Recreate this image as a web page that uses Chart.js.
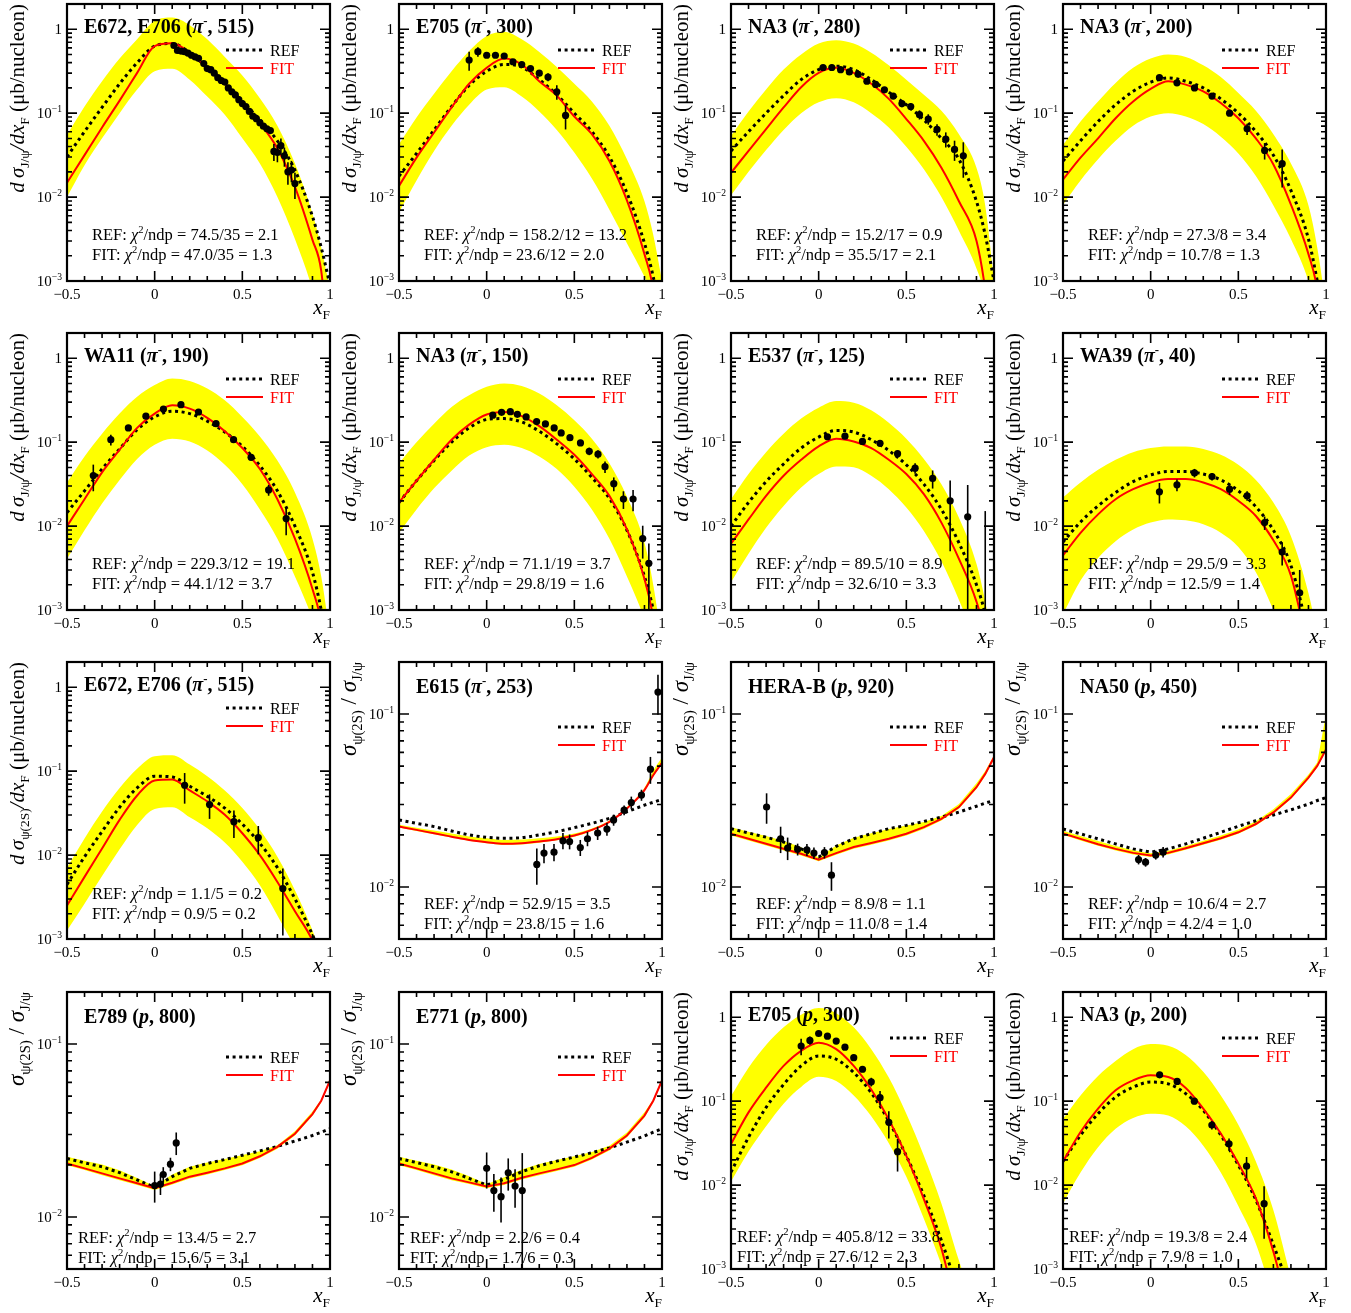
<!DOCTYPE html>
<html><head><meta charset="utf-8">
<script src="https://cdn.jsdelivr.net/npm/chart.js@4.4.0/dist/chart.umd.min.js"></script>
<style>
html,body{margin:0;padding:0;background:#fff;}
#wrap{position:relative;width:1351px;height:1313px;overflow:hidden;}
canvas{position:absolute;}
</style></head><body><div id="wrap"></div>
<script>
// ---------- common grids / ticks ----------
const xGrid = [-0.5,-0.4,-0.3,-0.2,-0.1,0,0.1,0.2,0.3,0.4,0.5,0.6,0.7,0.8,0.9,0.95,1.0];
const xTickValues = [-0.5,0,0.5,1];
const xTickLabels = ['\u22120.5','0','0.5','1'];
const csTickValues = [1e-3,1e-2,1e-1,1];
const csTickExps = ['\u22123','\u22122','\u22121',''];
const ratioTickValues = [1e-2,1e-1];
const ratioTickExps = ['\u22122','\u22121'];

// ---------- panel 1: E672,E706 (pi-,515) J/psi ----------
const p1Fit = [0.0148,0.0316,0.0676,0.141,0.302,0.63,0.68,0.525,0.347,0.224,0.132,0.0759,0.038,0.0132,0.00309,0.00132,0.0001];
const p1Ref = [0.0302,0.0603,0.117,0.224,0.398,0.631,0.676,0.525,0.347,0.229,0.138,0.0832,0.0468,0.0209,0.00589,0.00251,0.00089];
const p1Hi  = [0.055,0.12,0.24,0.447,0.759,1.26,1.38,1.12,0.759,0.468,0.282,0.151,0.0708,0.0251,0.00631,0.00251,0.000794];
const p1Lo  = [0.01,0.024,0.0501,0.1,0.191,0.316,0.339,0.251,0.158,0.0955,0.0501,0.0251,0.01,0.00316,0.000794,0.000316,0.0001];
const p1X = [0.11,0.13,0.15,0.17,0.19,0.21,0.23,0.25,0.28,0.30,0.32,0.34,0.36,0.38,0.40,0.42,0.44,0.46,0.48,0.50,0.52,0.54,0.56,0.58,0.60,0.62,0.64,0.66,0.68,0.70,0.72,0.74,0.76,0.78,0.80];
const p1Y = [0.64,0.56,0.55,0.54,0.52,0.49,0.47,0.45,0.39,0.34,0.33,0.30,0.265,0.245,0.235,0.20,0.18,0.165,0.145,0.13,0.12,0.105,0.092,0.086,0.077,0.07,0.065,0.062,0.035,0.034,0.041,0.031,0.020,0.021,0.0145];
const p1Err = [0.02,0.02,0.02,0.02,0.02,0.02,0.02,0.02,0.015,0.015,0.015,0.012,0.012,0.01,0.01,0.01,0.008,0.008,0.007,0.006,0.006,0.005,0.005,0.005,0.004,0.004,0.004,0.004,0.008,0.008,0.009,0.008,0.006,0.006,0.005];

// ---------- panel 2: E705 (pi-,300) ----------
const p2Fit = [0.0136,0.0295,0.0589,0.117,0.224,0.347,0.447,0.38,0.24,0.162,0.0912,0.0562,0.0269,0.00912,0.00209,0.000794,0.0001];
const p2Ref = [0.0178,0.0331,0.0631,0.12,0.214,0.316,0.38,0.355,0.251,0.166,0.1,0.0603,0.0302,0.0112,0.00282,0.00112,0.000316];
const p2Hi  = [0.0427,0.0891,0.17,0.316,0.55,0.832,0.933,0.759,0.537,0.355,0.224,0.138,0.0708,0.0282,0.00891,0.00355,0.001];
const p2Lo  = [0.0066,0.0158,0.0355,0.0708,0.126,0.191,0.204,0.158,0.105,0.0631,0.0339,0.0166,0.00708,0.00282,0.00112,0.00063,0.00025];
const p2X = [-0.1,-0.05,0,0.05,0.1,0.15,0.2,0.25,0.3,0.35,0.4,0.45];
const p2Y = [0.43,0.54,0.49,0.49,0.48,0.41,0.38,0.34,0.3,0.27,0.18,0.094];
const p2Err = [0.11,0.07,0.03,0.03,0.03,0.03,0.025,0.025,0.025,0.03,0.035,0.03];

// ---------- panel 3: NA3 (pi-,280) ----------
const p3Fit = [0.0195,0.0355,0.0646,0.117,0.204,0.302,0.347,0.302,0.224,0.148,0.0851,0.0468,0.0224,0.00891,0.00302,0.000794,0.0001];
const p3Ref = [0.0355,0.0603,0.1,0.162,0.251,0.331,0.363,0.331,0.251,0.178,0.126,0.0832,0.0501,0.0282,0.00891,0.00355,0.001];
const p3Hi  = [0.0537,0.105,0.191,0.331,0.501,0.676,0.741,0.676,0.525,0.372,0.251,0.166,0.107,0.0562,0.0224,0.00794,0.001];
const p3Lo  = [0.0105,0.02,0.0363,0.0631,0.1,0.135,0.151,0.135,0.1,0.0676,0.0398,0.0214,0.01,0.00398,0.00141,0.00063,0.0001];
const p3X = [0.025,0.075,0.125,0.175,0.225,0.275,0.325,0.375,0.425,0.475,0.525,0.575,0.625,0.675,0.725,0.775,0.825];
const p3Y = [0.35,0.35,0.33,0.31,0.29,0.24,0.22,0.19,0.16,0.13,0.12,0.096,0.085,0.064,0.049,0.037,0.031];
const p3Err = [0.02,0.02,0.02,0.02,0.02,0.015,0.015,0.012,0.012,0.012,0.012,0.012,0.012,0.01,0.01,0.01,0.014];

// ---------- panel 4: NA3 (pi-,200) ----------
const p4Fit = [0.0162,0.0295,0.0501,0.0871,0.138,0.195,0.24,0.219,0.182,0.132,0.0871,0.0501,0.0245,0.00813,0.00209,0.000794,0.0001];
const p4Ref = [0.0269,0.0468,0.0794,0.126,0.182,0.234,0.263,0.24,0.2,0.148,0.1,0.0603,0.0316,0.012,0.00316,0.001,0.00025];
const p4Hi  = [0.0417,0.0794,0.138,0.229,0.347,0.447,0.501,0.468,0.372,0.269,0.174,0.107,0.0562,0.0251,0.00794,0.00251,0.0005];
const p4Lo  = [0.00813,0.0158,0.0282,0.0468,0.0708,0.0912,0.1,0.0912,0.0741,0.0525,0.0331,0.0178,0.00794,0.00316,0.001,0.000398,0.000158];
const p4X = [0.05,0.15,0.25,0.35,0.45,0.55,0.65,0.75];
const p4Y = [0.265,0.23,0.2,0.16,0.1,0.065,0.036,0.025];
const p4Err = [0.02,0.015,0.012,0.01,0.007,0.01,0.008,0.012];

// ---------- panel 5: WA11 (pi-,190) ----------
const p5Fit = [0.01,0.0209,0.0437,0.0813,0.148,0.219,0.275,0.251,0.195,0.135,0.0851,0.0479,0.0209,0.00708,0.00178,0.000708,0.0001];
const p5Ref = [0.0145,0.0263,0.0479,0.0832,0.141,0.2,0.234,0.219,0.178,0.132,0.0891,0.0525,0.0263,0.01,0.00282,0.001,0.00025];
const p5Hi  = [0.0331,0.0676,0.126,0.219,0.347,0.479,0.575,0.537,0.437,0.316,0.2,0.117,0.0603,0.0251,0.00708,0.00251,0.0005];
const p5Lo  = [0.00407,0.00891,0.0186,0.0355,0.0631,0.0933,0.11,0.102,0.0794,0.0537,0.0316,0.0158,0.00708,0.00251,0.000794,0.000398,0.000158];
const p5X = [-0.35,-0.25,-0.15,-0.05,0.05,0.15,0.25,0.35,0.45,0.55,0.65,0.75];
const p5Y = [0.04,0.107,0.148,0.204,0.248,0.28,0.229,0.166,0.107,0.066,0.027,0.0123];
const p5Err = [0.014,0.016,0.01,0.012,0.012,0.012,0.01,0.01,0.008,0.005,0.004,0.0045];

// ---------- panel 6: NA3 (pi-,150) ----------
const p6Fit = [0.0191,0.0347,0.0617,0.107,0.162,0.214,0.229,0.204,0.155,0.107,0.0708,0.0417,0.0229,0.00912,0.00234,0.000794,0.0001];
const p6Ref = [0.0191,0.0347,0.0603,0.1,0.148,0.186,0.191,0.174,0.135,0.0955,0.0631,0.038,0.0214,0.00891,0.00251,0.001,0.00025];
const p6Hi  = [0.0562,0.1,0.166,0.263,0.363,0.457,0.501,0.468,0.38,0.275,0.182,0.11,0.0562,0.0224,0.00631,0.002,0.000398];
const p6Lo  = [0.00832,0.0158,0.0282,0.0457,0.0692,0.0871,0.0933,0.0851,0.0676,0.0479,0.0295,0.0158,0.00708,0.00251,0.000794,0.000398,0.000158];
const p6X = [0.035,0.085,0.135,0.175,0.225,0.285,0.335,0.385,0.425,0.475,0.535,0.585,0.635,0.675,0.725,0.78,0.835,0.89,0.925];
const p6Y = [0.21,0.227,0.231,0.215,0.2,0.176,0.165,0.148,0.129,0.113,0.098,0.078,0.072,0.051,0.032,0.021,0.021,0.0071,0.0036];
const p6Err = [0.012,0.012,0.012,0.012,0.01,0.01,0.009,0.008,0.008,0.008,0.008,0.008,0.008,0.008,0.006,0.005,0.006,0.003,0.0026];

// ---------- panel 7: E537 (pi-,125) ----------
const p7Fit = [0.00617,0.012,0.0229,0.0398,0.0617,0.0891,0.11,0.102,0.0851,0.0617,0.0417,0.024,0.011,0.00407,0.00126,0.000501,0.0001];
const p7Ref = [0.01,0.0191,0.0339,0.055,0.0851,0.115,0.138,0.132,0.107,0.0794,0.0537,0.0316,0.0158,0.00631,0.002,0.000891,0.00025];
const p7Hi  = [0.0209,0.0417,0.0759,0.126,0.191,0.257,0.309,0.295,0.24,0.17,0.11,0.0631,0.0316,0.0126,0.00355,0.00126,0.000316];
const p7Lo  = [0.00214,0.00468,0.00955,0.0174,0.0288,0.0417,0.0513,0.0501,0.0398,0.0275,0.0166,0.00871,0.0038,0.00132,0.000398,0.0002,0.0001];
const p7X = [0.05,0.15,0.25,0.35,0.45,0.55,0.65,0.75,0.85,0.95];
const p7Y = [0.116,0.118,0.102,0.097,0.073,0.049,0.037,0.02,0.0129,0.0006];
const p7Err = [0.005,0.005,0.005,0.006,0.006,0.007,0.009,0.015,0.018,0.0145];

// ---------- panel 8: WA39 (pi-,40) ----------
const p8Fit = [0.00447,0.00832,0.0138,0.0209,0.0275,0.0331,0.0363,0.0363,0.0331,0.0275,0.02,0.0132,0.00676,0.00257,0.000316,0.0001,0.0000316];
const p8Ref = [0.00646,0.0112,0.0174,0.0251,0.0339,0.0407,0.0447,0.0447,0.0417,0.0355,0.0263,0.017,0.00891,0.00339,0.0005,0.000158,0.00005];
const p8Hi  = [0.0219,0.0331,0.0468,0.0617,0.0759,0.0851,0.0891,0.0891,0.0832,0.0708,0.0537,0.0355,0.0191,0.00759,0.00158,0.000501,0.0001];
const p8Lo  = [0.000891,0.00224,0.00417,0.00661,0.00912,0.011,0.012,0.0117,0.0105,0.00832,0.00562,0.00282,0.001,0.000316,0.0001,0.00005,0.0000316];
const p8X = [0.05,0.15,0.25,0.35,0.45,0.55,0.65,0.75,0.85];
const p8Y = [0.0256,0.031,0.043,0.039,0.0275,0.023,0.011,0.0049,0.0016];
const p8Err = [0.007,0.005,0.005,0.004,0.004,0.003,0.002,0.0015,0.0014];

// ---------- panel 9: E672,E706 (pi-,515) psi(2S) ----------
const p9Fit = [0.00251,0.0055,0.012,0.0263,0.0513,0.0776,0.0794,0.0589,0.0437,0.0302,0.0182,0.01,0.00479,0.00214,0.000955,0.0005,0.000158];
const p9Ref = [0.00447,0.00955,0.0191,0.0372,0.0631,0.0871,0.0851,0.0661,0.0501,0.0363,0.0234,0.0138,0.00708,0.00302,0.00112,0.00063,0.00025];
const p9Hi  = [0.00708,0.0158,0.0331,0.0631,0.107,0.151,0.155,0.12,0.0871,0.0589,0.0363,0.02,0.00955,0.0038,0.00126,0.00063,0.000316];
const p9Lo  = [0.00126,0.00263,0.00562,0.0117,0.0229,0.0355,0.0372,0.0282,0.0209,0.0141,0.00832,0.00437,0.00191,0.000794,0.000316,0.000158,0.0001];
const p9X = [0.171,0.313,0.452,0.591,0.731];
const p9Y = [0.068,0.04,0.025,0.0162,0.004];
const p9Err = [0.027,0.013,0.009,0.006,0.0029];

// ---------- panel 10: E615 (pi-,253) ratio ----------
const p10Fit = [0.02234,0.02138,0.02042,0.01954,0.01871,0.01816,0.01775,0.01791,0.01832,0.01888,0.01982,0.02138,0.02382,0.02844,0.03631,0.04426,0.05224];
const p10Ref = [0.02438,0.02333,0.02234,0.02109,0.02,0.01936,0.01914,0.01928,0.02,0.02089,0.02203,0.02333,0.02495,0.02723,0.02972,0.0309,0.03206];
const p10Hi  = [0.0229,0.022,0.0212,0.0204,0.0196,0.0191,0.0187,0.0188,0.0191,0.0196,0.0204,0.0218,0.0242,0.029,0.0375,0.047,0.056];
const p10Lo  = [0.0221,0.0211,0.0202,0.0193,0.0185,0.0179,0.0175,0.0176,0.018,0.0186,0.0195,0.0211,0.0235,0.0281,0.0358,0.0436,0.0515];
const p10X = [0.286,0.327,0.384,0.435,0.473,0.534,0.575,0.633,0.686,0.724,0.784,0.825,0.883,0.934,0.977];
const p10Y = [0.0135,0.0157,0.0159,0.0185,0.0183,0.0169,0.019,0.0205,0.0216,0.0244,0.0278,0.0308,0.034,0.048,0.134];
const p10Err = [0.0032,0.002,0.0018,0.002,0.0018,0.0018,0.0018,0.0018,0.0018,0.0018,0.0018,0.0025,0.0025,0.0085,0.035];

// ---------- panel 11: HERA-B (p,920) ratio ----------
const p11Fit = [0.02032,0.01901,0.01778,0.01663,0.01556,0.01439,0.0157,0.01702,0.01795,0.01901,0.02032,0.02218,0.02477,0.02897,0.03776,0.04508,0.05623];
const p11Ref = [0.02173,0.02051,0.01941,0.0182,0.01663,0.01489,0.01718,0.01901,0.02032,0.02173,0.0227,0.02393,0.02535,0.0271,0.02931,0.03055,0.03162];
const p11Hi  = [0.02213,0.02089,0.01972,0.01841,0.01698,0.01479,0.01738,0.01928,0.02042,0.02163,0.02265,0.02371,0.0257,0.0302,0.03981,0.04677,0.05754];
const p11Lo  = [0.01985,0.01857,0.01737,0.01625,0.0152,0.01406,0.01534,0.01663,0.01754,0.01857,0.01985,0.02167,0.0242,0.0283,0.0369,0.04404,0.05494];
const p11X = [-0.297,-0.217,-0.177,-0.12,-0.067,-0.027,0.033,0.073];
const p11Y = [0.029,0.019,0.0168,0.0165,0.0164,0.0157,0.0158,0.0117];
const p11Err = [0.0058,0.0033,0.0025,0.0013,0.0013,0.0012,0.0012,0.0022];

// ---------- panel 12: NA50 (p,450) ratio ----------
const p12Fit = [0.02042,0.01897,0.01766,0.0166,0.01574,0.01521,0.01574,0.01675,0.01791,0.01914,0.0207,0.02312,0.02698,0.03289,0.04285,0.05012,0.06237];
const p12Ref = [0.02163,0.02028,0.01897,0.01774,0.0166,0.01589,0.0166,0.01774,0.01914,0.0207,0.02244,0.02415,0.02606,0.02793,0.03013,0.03162,0.03289];
const p12Hi  = [0.02113,0.01972,0.01841,0.01726,0.01633,0.01567,0.01622,0.01726,0.01849,0.01982,0.02148,0.02399,0.02818,0.03451,0.04467,0.05248,0.1];
const p12Lo  = [0.02001,0.01859,0.01731,0.01627,0.01543,0.01491,0.01543,0.01642,0.01755,0.01876,0.02029,0.02266,0.02644,0.03223,0.04199,0.04912,0.06112];
const p12X = [-0.069,-0.029,0.029,0.071];
const p12Y = [0.0144,0.0139,0.0153,0.0159];
const p12Err = [0.0009,0.0008,0.0009,0.0011];

// ---------- panel 13: E789 (p,800) ratio ----------
const p13Fit = [0.02037,0.0191,0.01786,0.01671,0.01567,0.01466,0.01578,0.0171,0.01803,0.0191,0.02037,0.02244,0.02541,0.03027,0.03936,0.04699,0.06166];
const p13Ref = [0.02178,0.02056,0.0195,0.01803,0.01637,0.01486,0.0171,0.0191,0.02037,0.02148,0.02275,0.0241,0.02559,0.02748,0.02958,0.0309,0.03236];
const p13Hi  = [0.02228,0.02113,0.02009,0.01862,0.01679,0.01507,0.01758,0.0195,0.02065,0.02163,0.0228,0.02399,0.026,0.03126,0.04074,0.04786,0.0631];
const p13Lo  = [0.0199,0.01866,0.01745,0.01633,0.01531,0.01432,0.01542,0.01671,0.01762,0.01866,0.0199,0.02192,0.02483,0.02957,0.03846,0.04591,0.06024];
const p13X = [0.0,0.033,0.049,0.09,0.123];
const p13Y = [0.0152,0.0155,0.0176,0.0202,0.0268];
const p13Err = [0.0031,0.0021,0.0018,0.0018,0.004];

// ---------- panel 14: E771 (p,800) ratio ----------
const p14Fit = [0.02037,0.0191,0.01786,0.01671,0.01585,0.015,0.01567,0.01687,0.01786,0.01884,0.01995,0.02198,0.02483,0.02958,0.03855,0.04699,0.06166];
const p14Ref = [0.02178,0.02065,0.0195,0.01824,0.01671,0.01531,0.01652,0.01824,0.01977,0.02104,0.02223,0.02355,0.02506,0.0271,0.02938,0.0309,0.03236];
const p14Hi  = [0.02228,0.02113,0.02009,0.01879,0.01718,0.01545,0.01698,0.01884,0.02023,0.02138,0.02244,0.02371,0.0258,0.03076,0.04027,0.04786,0.0631];
const p14Lo  = [0.0199,0.01866,0.01745,0.01633,0.01549,0.01466,0.01531,0.01648,0.01745,0.01841,0.01949,0.02147,0.02426,0.0289,0.03766,0.04591,0.06024];
const p14X = [0.0,0.041,0.082,0.123,0.162,0.203];
const p14Y = [0.0191,0.0142,0.0131,0.018,0.0151,0.0142];
const p14Err = [0.0045,0.0035,0.0038,0.0038,0.0038,0.0092];

// ---------- panel 15: E705 (p,300) ----------
const p15Fit = [0.0309,0.0735,0.145,0.263,0.398,0.497,0.417,0.263,0.138,0.0607,0.0223,0.00682,0.00176,0.000251,0.00005,0.0000251,0.00001];
const p15Ref = [0.01426,0.0372,0.0841,0.158,0.263,0.345,0.316,0.219,0.126,0.0579,0.0223,0.00748,0.00219,0.000501,0.0001,0.00005,0.0000251];
const p15Hi  = [0.115,0.251,0.468,0.759,1.07,1.29,1.12,0.759,0.417,0.191,0.0708,0.0224,0.00603,0.00126,0.000316,0.000158,0.0001];
const p15Lo  = [0.011,0.0251,0.0501,0.0933,0.148,0.195,0.174,0.117,0.0661,0.0316,0.0126,0.00398,0.00112,0.000251,0.000063,0.0000316,0.00001];
const p15X = [-0.1,-0.05,0,0.05,0.1,0.15,0.2,0.25,0.3,0.35,0.4,0.45];
const p15Y = [0.453,0.53,0.64,0.595,0.52,0.44,0.33,0.24,0.17,0.11,0.056,0.025];
const p15Err = [0.1,0.06,0.04,0.035,0.03,0.025,0.02,0.018,0.02,0.022,0.02,0.0105];

// ---------- panel 16: NA3 (p,200) ----------
const p16Fit = [0.0191,0.043,0.0815,0.135,0.177,0.203,0.194,0.144,0.0815,0.0411,0.0181,0.00695,0.00161,0.000251,0.00005,0.0000251,0.00001];
const p16Ref = [0.0191,0.0393,0.071,0.112,0.147,0.169,0.161,0.123,0.0778,0.0393,0.0173,0.00664,0.00194,0.000501,0.0001,0.00005,0.0000251];
const p16Hi  = [0.0617,0.117,0.2,0.302,0.417,0.479,0.457,0.355,0.224,0.117,0.0525,0.0191,0.00501,0.000794,0.000158,0.0000794,0.0000316];
const p16Lo  = [0.00603,0.0141,0.0282,0.0468,0.0631,0.0708,0.0676,0.0501,0.0295,0.0141,0.00562,0.002,0.000447,0.0001,0.0000251,0.0000158,0.00001];
const p16X = [0.051,0.151,0.249,0.349,0.447,0.547,0.647];
const p16Y = [0.206,0.172,0.1,0.052,0.031,0.0168,0.006];
const p16Err = [0.01,0.008,0.008,0.006,0.005,0.0048,0.0037];

// ---------- panel descriptions ----------
const panels = [
 {name:'E672, E706', beam:'pi', energy:'515', kind:'cs', yt:'jpsi', fit:p1Fit, ref:p1Ref, hi:p1Hi, lo:p1Lo, dx:p1X, dy:p1Y, de:p1Err, chiRef:'74.5/35 = 2.1', chiFit:'47.0/35 = 1.3'},
 {name:'E705', beam:'pi', energy:'300', kind:'cs', yt:'jpsi', fit:p2Fit, ref:p2Ref, hi:p2Hi, lo:p2Lo, dx:p2X, dy:p2Y, de:p2Err, chiRef:'158.2/12 = 13.2', chiFit:'23.6/12 = 2.0'},
 {name:'NA3', beam:'pi', energy:'280', kind:'cs', yt:'jpsi', fit:p3Fit, ref:p3Ref, hi:p3Hi, lo:p3Lo, dx:p3X, dy:p3Y, de:p3Err, chiRef:'15.2/17 = 0.9', chiFit:'35.5/17 = 2.1'},
 {name:'NA3', beam:'pi', energy:'200', kind:'cs', yt:'jpsi', fit:p4Fit, ref:p4Ref, hi:p4Hi, lo:p4Lo, dx:p4X, dy:p4Y, de:p4Err, chiRef:'27.3/8 = 3.4', chiFit:'10.7/8 = 1.3'},
 {name:'WA11', beam:'pi', energy:'190', kind:'cs', yt:'jpsi', fit:p5Fit, ref:p5Ref, hi:p5Hi, lo:p5Lo, dx:p5X, dy:p5Y, de:p5Err, chiRef:'229.3/12 = 19.1', chiFit:'44.1/12 = 3.7'},
 {name:'NA3', beam:'pi', energy:'150', kind:'cs', yt:'jpsi', fit:p6Fit, ref:p6Ref, hi:p6Hi, lo:p6Lo, dx:p6X, dy:p6Y, de:p6Err, chiRef:'71.1/19 = 3.7', chiFit:'29.8/19 = 1.6'},
 {name:'E537', beam:'pi', energy:'125', kind:'cs', yt:'jpsi', fit:p7Fit, ref:p7Ref, hi:p7Hi, lo:p7Lo, dx:p7X, dy:p7Y, de:p7Err, chiRef:'89.5/10 = 8.9', chiFit:'32.6/10 = 3.3'},
 {name:'WA39', beam:'pi', energy:'40', kind:'cs', yt:'jpsi', fit:p8Fit, ref:p8Ref, hi:p8Hi, lo:p8Lo, dx:p8X, dy:p8Y, de:p8Err, chiRef:'29.5/9 = 3.3', chiFit:'12.5/9 = 1.4'},
 {name:'E672, E706', beam:'pi', energy:'515', kind:'cs', yt:'psi2s', fit:p9Fit, ref:p9Ref, hi:p9Hi, lo:p9Lo, dx:p9X, dy:p9Y, de:p9Err, chiRef:'1.1/5 = 0.2', chiFit:'0.9/5 = 0.2'},
 {name:'E615', beam:'pi', energy:'253', kind:'ratio', yt:'ratio', fit:p10Fit, ref:p10Ref, hi:p10Hi, lo:p10Lo, dx:p10X, dy:p10Y, de:p10Err, chiRef:'52.9/15 = 3.5', chiFit:'23.8/15 = 1.6'},
 {name:'HERA-B', beam:'p', energy:'920', kind:'ratio', yt:'ratio', fit:p11Fit, ref:p11Ref, hi:p11Hi, lo:p11Lo, dx:p11X, dy:p11Y, de:p11Err, chiRef:'8.9/8 = 1.1', chiFit:'11.0/8 = 1.4'},
 {name:'NA50', beam:'p', energy:'450', kind:'ratio', yt:'ratio', fit:p12Fit, ref:p12Ref, hi:p12Hi, lo:p12Lo, dx:p12X, dy:p12Y, de:p12Err, chiRef:'10.6/4 = 2.7', chiFit:'4.2/4 = 1.0'},
 {name:'E789', beam:'p', energy:'800', kind:'ratio', yt:'ratio', fit:p13Fit, ref:p13Ref, hi:p13Hi, lo:p13Lo, dx:p13X, dy:p13Y, de:p13Err, chiRef:'13.4/5 = 2.7', chiFit:'15.6/5 = 3.1'},
 {name:'E771', beam:'p', energy:'800', kind:'ratio', yt:'ratio', fit:p14Fit, ref:p14Ref, hi:p14Hi, lo:p14Lo, dx:p14X, dy:p14Y, de:p14Err, chiRef:'2.2/6 = 0.4', chiFit:'1.7/6 = 0.3'},
 {name:'E705', beam:'p', energy:'300', kind:'cs', yt:'jpsi', fit:p15Fit, ref:p15Ref, hi:p15Hi, lo:p15Lo, dx:p15X, dy:p15Y, de:p15Err, chiRef:'405.8/12 = 33.8', chiFit:'27.6/12 = 2.3'},
 {name:'NA3', beam:'p', energy:'200', kind:'cs', yt:'jpsi', fit:p16Fit, ref:p16Ref, hi:p16Hi, lo:p16Lo, dx:p16X, dy:p16Y, de:p16Err, chiRef:'19.3/8 = 2.4', chiFit:'7.9/8 = 1.0'}
];
// layout and style (positions only)
const rowTops = [0,329,658,988];
const chiPos = [[25,230],[25,230],[25,230],[25,230],[25,230],[25,230],[25,230],[25,230],[25,231],[25,241],[25,241],[25,241],[11,245],[11,245],[6,244],[6,244]];
// curve interpolation per panel: smooth for cross sections, kinked for the p ratio panels
const interp = ['smooth','smooth','smooth','smooth','smooth','smooth','smooth','smooth','smooth','smooth','linear','linear','linear','linear','smooth','smooth'];

// ---------- rich text helpers ----------
const SERIF = '"Liberation Serif","Times New Roman","DejaVu Serif",serif';
function fontFor(f, size){
  const small = f.includes('^') || f.includes('_');
  const s = small ? size*0.64 : size;
  return (f.includes('i')?'italic ':'') + (f.includes('b')?'bold ':'') + s.toFixed(1) + 'px ' + SERIF;
}
function richWidth(ctx, segs, size){
  let w=0; for (const [t,f] of segs){ ctx.font=fontFor(f,size); w+=ctx.measureText(t).width; } return w;
}
function drawRich(ctx, x, y, segs, size, align, color){
  const w = richWidth(ctx, segs, size);
  let cx = align==='right' ? x-w : (align==='center' ? x-w/2 : x);
  ctx.textAlign='left'; ctx.textBaseline='alphabetic'; ctx.fillStyle=color||'#000';
  for (const [t,f] of segs){
    ctx.font=fontFor(f,size);
    let dy=0; if (f.includes('^')) dy=-size*0.4; if (f.includes('_')) dy=size*0.25;
    ctx.fillText(t,cx,y+dy); cx+=ctx.measureText(t).width;
  }
}
function titleSegs(p){
  if (p.beam==='pi') return [[p.name+' (','b'],['\u03c0','bi'],['-','b^'],[', '+p.energy+')','b']];
  return [[p.name+' (','b'],['p','bi'],[', '+p.energy+')','b']];
}
const yTitles = {
  jpsi: [['d\u2009\u03c3','i'],['J/\u03c8','_'],['/dx','i'],['F','_'],[' (\u03bcb/nucleon)','n']],
  psi2s: [['d\u2009\u03c3','i'],['\u03c8(2S)','_'],['/dx','i'],['F','_'],[' (\u03bcb/nucleon)','n']],
  ratio: [['\u03c3','i'],['\u03c8(2S)','_'],[' / ','n'],['\u03c3','i'],['J/\u03c8','_']]
};

function makeDecor(p, idx){
  return {
    id:'decor'+idx,
    afterDatasetsDraw(chart){
      const {ctx, chartArea:a} = chart; const xs=chart.scales.x, ys=chart.scales.y;
      ctx.save(); ctx.beginPath(); ctx.rect(a.left,a.top,a.right-a.left,a.bottom-a.top); ctx.clip();
      ctx.strokeStyle='#000'; ctx.lineWidth=1.6;
      p.dx.forEach((x,i)=>{
        const px = xs.getPixelForValue(x);
        const hi = p.dy[i]+p.de[i], lo = p.dy[i]-p.de[i];
        const yh = ys.getPixelForValue(hi);
        const yl = lo>0 ? ys.getPixelForValue(lo) : a.bottom+5;
        ctx.beginPath(); ctx.moveTo(px,yh); ctx.lineTo(px,yl); ctx.stroke();
      });
      ctx.restore();
    },
    afterDraw(chart){
      const {ctx, chartArea:a} = chart; const xs=chart.scales.x, ys=chart.scales.y;
      ctx.save();
      ctx.strokeStyle='#000'; ctx.lineWidth=1.6; ctx.setLineDash([]);
      ctx.beginPath();
      for (let k=0;k<=15;k++){
        const px = xs.getPixelForValue(-0.5+k*0.1); const L=(k%5===0)?10:5;
        ctx.moveTo(px,a.bottom); ctx.lineTo(px,a.bottom-L);
        ctx.moveTo(px,a.top); ctx.lineTo(px,a.top+L);
      }
      const mn=ys.min, mx=ys.max;
      for (let d=Math.floor(Math.log10(mn)); d<=Math.ceil(Math.log10(mx)); d++){
        for (let m=1;m<=9;m++){
          const v=m*Math.pow(10,d);
          if (v<mn*0.999 || v>mx*1.001) continue;
          const py=ys.getPixelForValue(v); const L=(m===1)?10:5;
          ctx.moveTo(a.left,py); ctx.lineTo(a.left+L,py);
          ctx.moveTo(a.right,py); ctx.lineTo(a.right-L,py);
        }
      }
      ctx.stroke();
      ctx.lineWidth=2.2; ctx.strokeRect(a.left,a.top,a.right-a.left,a.bottom-a.top);
      xTickValues.forEach((v,i)=>{ drawRich(ctx, xs.getPixelForValue(v), a.bottom+18, [[xTickLabels[i],'n']], 15, 'center'); });
      const tv = p.kind==='cs'?csTickValues:ratioTickValues, te = p.kind==='cs'?csTickExps:ratioTickExps;
      tv.forEach((v,i)=>{
        const py=ys.getPixelForValue(v)+5;
        const segs = te[i]==='' ? [['1','n']] : [['10','n'],[te[i],'^']];
        drawRich(ctx, a.left-5, py, segs, 15, 'right');
      });
      drawRich(ctx, a.right, a.bottom+33, [['x','i'],['F','_']], 21, 'right');
      ctx.save(); ctx.translate(24, a.top); ctx.rotate(-Math.PI/2);
      drawRich(ctx, 0, 0, yTitles[p.yt], p.yt==='ratio'?23:21, 'right');
      ctx.restore();
      drawRich(ctx, a.left+17, a.top+(p.kind==='cs'?29:31), titleSegs(p), 20, 'left');
      const ly = a.top + (p.kind==='cs'?46:65);
      const lx = a.left+159;
      ctx.lineWidth=3; ctx.strokeStyle='#000'; ctx.setLineDash([3,3.6]);
      ctx.beginPath(); ctx.moveTo(lx,ly); ctx.lineTo(lx+37,ly); ctx.stroke();
      ctx.setLineDash([]); ctx.lineWidth=2; ctx.strokeStyle='#ff0000';
      ctx.beginPath(); ctx.moveTo(lx,ly+18); ctx.lineTo(lx+37,ly+18); ctx.stroke();
      drawRich(ctx, lx+44, ly+5.5, [['REF','n']], 16, 'left', '#000');
      drawRich(ctx, lx+44, ly+23.5, [['FIT','n']], 16, 'left', '#ff0000');
      const [cxo, cyo] = chiPos[idx];
      drawRich(ctx, a.left+cxo, a.top+cyo+6, [['REF: ','n'],['\u03c7','i'],['2','^'],['/ndp = '+p.chiRef,'n']], 16.5, 'left');
      drawRich(ctx, a.left+cxo, a.top+cyo+26, [['FIT: ','n'],['\u03c7','i'],['2','^'],['/ndp = '+p.chiFit,'n']], 16.5, 'left');
      ctx.restore();
    }
  };
}

const wrap = document.getElementById('wrap');
panels.forEach((p, idx)=>{
  const r = Math.floor(idx/4), c = idx%4;
  const cv = document.createElement('canvas');
  cv.width=350; cv.height=329;
  cv.style.left=(332*c)+'px'; cv.style.top=rowTops[r]+'px';
  cv.style.width='350px'; cv.style.height='329px';
  wrap.appendChild(cv);
  const line = arr => xGrid.map((x,i)=>({x:x, y:arr[i]}));
  const pts = p.dx.map((x,i)=>({x:x, y:p.dy[i]}));
  const isCs = p.kind==='cs';
  const sm = interp[idx]==='smooth';
  const curve = sm ? {cubicInterpolationMode:'monotone'} : {tension:0};
  new Chart(cv, {
    type:'line',
    data:{ datasets:[
      {data:pts, showLine:false, pointRadius:3.6, pointBackgroundColor:'#000', pointBorderWidth:0, order:0, clip:0},
      Object.assign({data:line(p.fit), borderColor:'#ff0000', borderWidth:2, pointRadius:0, fill:false, order:1}, curve),
      Object.assign({data:line(p.ref), borderColor:'#000', borderWidth:3, borderDash:[3,3.6], pointRadius:0, fill:false, order:2}, curve),
      Object.assign({data:line(p.hi), borderWidth:0, borderColor:'rgba(0,0,0,0)', backgroundColor:'#ffff00', pointRadius:0, fill:'+1', order:3}, curve),
      Object.assign({data:line(p.lo), borderWidth:0, borderColor:'rgba(0,0,0,0)', pointRadius:0, fill:false, order:4}, curve)
    ]},
    options:{
      responsive:false, animation:false, events:[],
      devicePixelRatio:1,
      layout:{padding:{left:67, top:2, right:20, bottom:48}},
      elements:{line:{capBezierPoints:false}},
      scales:{
        x:{type:'linear', min:-0.5, max:1, display:false},
        y:{type:'logarithmic', min: isCs?1e-3:0.005, max: isCs?2:0.2, display:false}
      },
      plugins:{legend:{display:false}, tooltip:{enabled:false}, filler:{propagate:false}}
    },
    plugins:[makeDecor(p, idx)]
  });
});
</script>
</body></html>
